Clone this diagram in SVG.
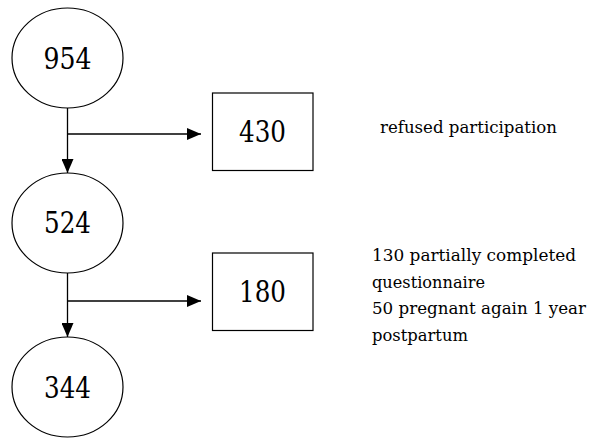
<svg xmlns="http://www.w3.org/2000/svg" width="594" height="439" viewBox="0 0 594 439">
<defs>
<style>
.node ellipse, .node rect { fill: #fff; stroke: #000; stroke-width: 1.2; }
.num { font-family: "DejaVu Serif", serif; font-size: 29px; text-anchor: middle; fill: #000; }
.lbl { font-family: "DejaVu Serif", serif; font-size: 17px; fill: #000; }
.conn line { stroke: #000; stroke-width: 1.3; }
</style>
<marker id="arr" markerWidth="14" markerHeight="12" refX="14" refY="6" orient="auto" markerUnits="userSpaceOnUse">
<path d="M0,0 L14,6 L0,12 Z" fill="#000"/>
</marker>
</defs>
<g id="connectors" class="conn">
<line x1="67.5" y1="108" x2="67.5" y2="173" marker-end="url(#arr)"/>
<line x1="67.5" y1="134" x2="201" y2="134" marker-end="url(#arr)"/>
<line x1="67.5" y1="273" x2="67.5" y2="337" marker-end="url(#arr)"/>
<line x1="67.5" y1="301" x2="201" y2="301" marker-end="url(#arr)"/>
</g>
<g id="n954" class="node">
<ellipse cx="67.5" cy="58" rx="55.5" ry="50"/>
<text class="num" x="67.5" y="68.5" textLength="48" lengthAdjust="spacingAndGlyphs">954</text>
</g>
<g id="n430" class="node">
<rect x="212.5" y="93" width="100.5" height="77.5"/>
<text class="num" x="262.5" y="141.5" textLength="47" lengthAdjust="spacingAndGlyphs">430</text>
</g>
<g id="n524" class="node">
<ellipse cx="67.5" cy="223" rx="55.5" ry="50"/>
<text class="num" x="67.5" y="232.5" textLength="47" lengthAdjust="spacingAndGlyphs">524</text>
</g>
<g id="n180" class="node">
<rect x="212.5" y="253" width="100.5" height="77.5"/>
<text class="num" x="262.5" y="302" textLength="47" lengthAdjust="spacingAndGlyphs">180</text>
</g>
<g id="n344" class="node">
<ellipse cx="67.5" cy="387" rx="55.5" ry="50"/>
<text class="num" x="67.5" y="397.5" textLength="47" lengthAdjust="spacingAndGlyphs">344</text>
</g>
<g id="labels">
<text class="lbl" x="380" y="133" textLength="177" lengthAdjust="spacingAndGlyphs">refused participation</text>
<text class="lbl" x="372" y="261" textLength="204" lengthAdjust="spacingAndGlyphs">130 partially completed</text>
<text class="lbl" x="372" y="287.5" textLength="113" lengthAdjust="spacingAndGlyphs">questionnaire</text>
<text class="lbl" x="372" y="314" textLength="214" lengthAdjust="spacingAndGlyphs">50 pregnant again 1 year</text>
<text class="lbl" x="372" y="340.5" textLength="96" lengthAdjust="spacingAndGlyphs">postpartum</text>
</g>
</svg>
